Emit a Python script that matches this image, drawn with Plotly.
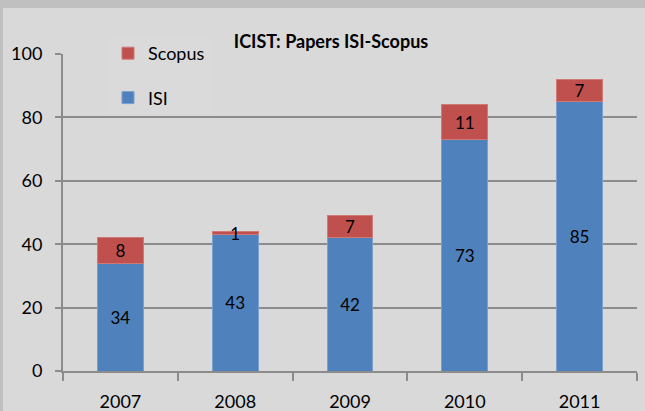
import plotly.graph_objects as go

# Data
years = ["2007", "2008", "2009", "2010", "2011"]
isi = [34, 43, 42, 73, 85]
scopus = [8, 1, 7, 11, 7]

W, H = 645, 411
left, right, top, bottom = 63, 8, 54, 40
plot_w = W - left - right
plot_h = H - top - bottom

fig = go.Figure()

fig.add_trace(go.Bar(
    x=years, y=isi, name="ISI",
    marker=dict(color="#4f81bd", line=dict(color="#7a9fd0", width=1)),
    text=isi, textposition="inside", insidetextanchor="middle",
    constraintext="none", textangle=0,
    textfont=dict(color="black", size=17),
    legendgroup="isi", legendrank=2,
))
fig.add_trace(go.Bar(
    x=years, y=scopus, name="Scopus",
    marker=dict(color="#c0504d", line=dict(color="#d07a78", width=1)),
    text=scopus, textposition="inside", insidetextanchor="middle",
    constraintext="none", textangle=0,
    textfont=dict(color="black", size=17),
    legendgroup="scopus", legendrank=1,
))

# light panel over the darker gray frame (top band + left edge)
fig.add_shape(
    type="rect", xref="paper", yref="paper", layer="below",
    x0=(3 - left) / plot_w, x1=(W - left) / plot_w,
    y0=1 - (H - top) / plot_h, y1=1 + (top - 8) / plot_h,
    fillcolor="#d9d9d9", line=dict(width=0),
)

fig.update_layout(
    width=W, height=H,
    margin=dict(l=left, r=right, t=top, b=bottom, pad=0, autoexpand=False),
    paper_bgcolor="#c0c0c0",
    plot_bgcolor="rgba(0,0,0,0)",
    barmode="stack",
    bargap=0.6,
    font=dict(family="Lato, Noto Sans, sans-serif", size=18, color="black"),
    title=dict(
        text="<b>ICIST: Papers ISI-Scopus</b>",
        font=dict(size=18, color="black"),
        x=(331 - left) / plot_w, xref="paper", xanchor="center",
        y=1 - 42 / H, yref="container", yanchor="middle",
    ),
    legend=dict(
        x=(108 - left) / plot_w, xanchor="left",
        y=1 + (top - 35) / plot_h, yanchor="top",
        bgcolor="rgba(217,217,217,0.75)",
        traceorder="grouped",
        tracegroupgap=18,
        font=dict(size=18),
        itemwidth=30,
    ),
    xaxis=dict(
        type="category", automargin=False,
        showgrid=False,
        showline=True, linecolor="#8c8c8c", linewidth=2,
        ticks="outside", tickson="boundaries", ticklen=8,
        tickcolor="#8c8c8c", tickwidth=2,
        tickfont=dict(size=18), ticklabelstandoff=13,
    ),
    yaxis=dict(
        range=[0, 100], dtick=20, automargin=False,
        showgrid=True, gridcolor="#8c8c8c", gridwidth=2,
        showline=True, linecolor="#8c8c8c", linewidth=2,
        ticks="outside", ticklen=6, tickcolor="#8c8c8c", tickwidth=2,
        tickfont=dict(size=18), ticklabelstandoff=9,
        zeroline=False,
    ),
)

# the page's default body margin would push the chart 8px right and down
fig.write_html(
    "out.html",
    config={"displayModeBar": False},
    post_script="document.body.style.margin='0';",
)
